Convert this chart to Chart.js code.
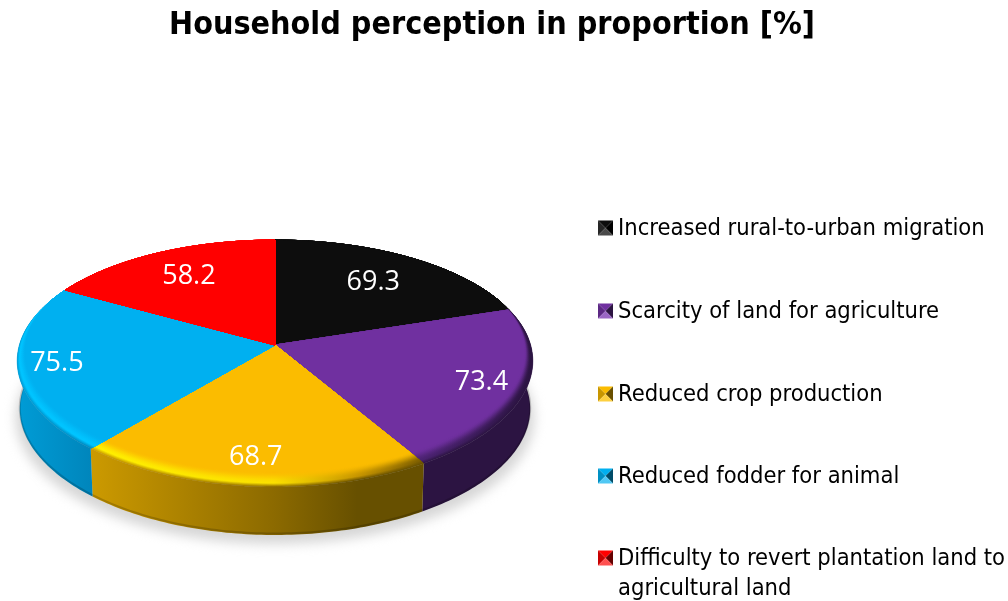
<!DOCTYPE html>
<html>
<head>
<meta charset="utf-8">
<title>Household perception in proportion</title>
<script src="https://cdn.jsdelivr.net/npm/chart.js@4/dist/chart.umd.min.js"></script>
<style>
    html, body { margin: 0; padding: 0; background: #fff; }
    #wrap { width: 1008px; height: 601px; }
</style>
</head>
<body>
<div id="wrap"><canvas id="pieChart" width="1008" height="601"></canvas></div>
<script>
//Values
const categories = [
    "Increased rural-to-urban migration",
    "Scarcity of land for agriculture",
    "Reduced crop production",
    "Reduced fodder for animal",
    "Difficulty to revert plantation land to agricultural land"
];
const perception = [69.3, 73.4, 68.7, 75.5, 58.2];
const titleText = "Household perception in proportion [%]";

//Colours per slice. Wall and bevel lists use the same stop positions so they can be blended
const faceColors = ["#0d0d0d", "#7030a0", "#fbbc00", "#00b0f0", "#ff0000"];
const wallColors = [
    [[0, "#0d0d0d"], [1, "#0d0d0d"]],
    [[0, "#2c1442"], [1, "#2c1442"]],
    [[0, "#cc9a00"], [0.55, "#8c6a00"], [0.8, "#675000"], [1, "#675000"]],
    [[0, "#009cd6"], [1, "#0086bc"]],
    [[0, "#ff0000"], [1, "#ff0000"]]
];
const bevelColors = [
    [[0, "#0d0d0d"], [1, "#0d0d0d"]],
    [[0, "#4a2270"], [1, "#2c1442"]],
    [[0, "#fff000"], [0.55, "#fbe000"], [0.8, "#c89600"], [1, "#7a5c00"]],
    [[0, "#00c4ff"], [1, "#00c4ff"]],
    [[0, "#ff0000"], [1, "#ff0000"]]
];
const markerColors = [
    ["#0d0d0d", "#262626", "#000000", "#4a4a4a"],
    ["#7030a0", "#5c2884", "#2c1442", "#9a66c4"],
    ["#fbbc00", "#c89600", "#6a5000", "#fdd040"],
    ["#00b0f0", "#0090c4", "#004c68", "#50c8f4"],
    ["#ff0000", "#c80000", "#660000", "#ff5050"]
];
//How far out along its radius each value label sits
const labelFractions = [0.70, 0.83, 0.82, 0.85, 0.72];

//Perspective of the tilted disc
const apexX = 275, apexY = 345;
const projA = 120.7, projB = 255.6, projK = 0.15, projKx = 0.13;
const depth = 48, bevelInset = 0.09, bevelSteps = 16, wallBlend = 0.25;

function project(angle, radius) {
    const u = Math.cos(angle) * radius;
    const v = Math.sin(angle) * radius;
    return { x: apexX + projB * u / (1 - projKx * v), y: apexY + projA * v / (1 - projK * v) };
}

//Rim point, pulled in towards the apex on the near side only (the bevel)
function rim(angle, inset) {
    const near = Math.max(0, (Math.sin(angle) + 0.4) / 1.4);
    return project(angle, 1 - inset * near);
}

function floorPoint(angle) {
    const p = project(angle, 1);
    return { x: apexX + (p.x - apexX) * 0.99, y: p.y + depth };
}

function anglesBetween(start, end) {
    const list = [];
    const steps = Math.ceil((end - start) / (Math.PI / 180));
    for (let i = 0; i <= steps; i++) {
        list.push(start + (end - start) * i / steps);
    }
    return list;
}

function hexToRgb(hex) {
    return [1, 3, 5].map(function (i) { return parseInt(hex.slice(i, i + 2), 16); });
}

function mixColor(a, b, t) {
    const ca = hexToRgb(a), cb = hexToRgb(b);
    const c = ca.map(function (v, i) { return Math.round(v + (cb[i] - v) * t); });
    return "rgb(" + c.join(",") + ")";
}

function arcSpan(arc) {
    const xs = anglesBetween(arc.startAngle, arc.endAngle).map(function (a) { return rim(a, 0).x; });
    return [Math.min.apply(null, xs), Math.max.apply(null, xs)];
}

//Colour of one bevel ring: t=0 is the outer edge, t=1 is the flat face
function ringStyle(ctx, i, span, face, t) {
    const g = ctx.createLinearGradient(span[0], 0, span[1], 0);
    bevelColors[i].forEach(function (s, n) {
        const first = wallColors[i][Math.round(n / (bevelColors[i].length - 1) * (wallColors[i].length - 1))][1];
        let color;
        if (t < wallBlend) {
            color = mixColor(first, s[1], t / wallBlend);
        } else {
            const k = (t - wallBlend) / (1 - wallBlend);
            color = mixColor(s[1], face, k * k * (3 - 2 * k));
        }
        g.addColorStop(s[0], color);
    });
    return g;
}

function fillFace(ctx, start, end, inset, style) {
    ctx.beginPath();
    ctx.moveTo(apexX, apexY);
    anglesBetween(start, end).forEach(function (a) {
        const p = rim(a, inset);
        ctx.lineTo(p.x, p.y);
    });
    ctx.closePath();
    ctx.fillStyle = style;
    ctx.strokeStyle = style;
    ctx.lineWidth = 0.6;
    ctx.fill();
    ctx.stroke();
}

const disc3dPlugin = {
    id: "disc3d",
    //Arcs keep their angles from the pie controller, but are painted here with the perspective
    beforeDatasetsDraw(chart) {
        const ctx = chart.ctx;
        const arcs = chart.getDatasetMeta(0).data;

        //Soft shadow on the ground
        ctx.save();
        ctx.filter = "blur(6px)";
        ctx.fillStyle = "#d6d6d6";
        ctx.beginPath();
        anglesBetween(0, Math.PI * 2).forEach(function (a) {
            const p = floorPoint(a);
            ctx.lineTo(p.x + (p.x - apexX) * 0.016, p.y + 9);
        });
        ctx.closePath();
        ctx.fill();
        ctx.restore();

        //Side wall
        arcs.forEach(function (arc, i) {
            const angles = anglesBetween(arc.startAngle, arc.endAngle);
            const span = arcSpan(arc);
            const g = ctx.createLinearGradient(span[0], 0, span[1], 0);
            wallColors[i].forEach(function (s) { g.addColorStop(s[0], s[1]); });
            ctx.beginPath();
            angles.forEach(function (a) {
                const p = rim(a, 0);
                ctx.lineTo(p.x, p.y);
            });
            angles.slice().reverse().forEach(function (a) {
                const p = floorPoint(a);
                ctx.lineTo(p.x, p.y);
            });
            ctx.closePath();
            ctx.fillStyle = g;
            ctx.fill();
            //Thin darker line along the foot of the wall
            ctx.beginPath();
            angles.forEach(function (a) {
                const p = floorPoint(a);
                ctx.lineTo(p.x, p.y - 1.5);
            });
            ctx.strokeStyle = "rgba(0,0,0,0.18)";
            ctx.lineWidth = 2;
            ctx.stroke();
        });

        //Top face: bevel rings blending into the flat colour
        arcs.forEach(function (arc, i) {
            const face = arc.options.backgroundColor;
            const span = arcSpan(arc);
            for (let s = 0; s <= bevelSteps; s++) {
                const t = s / bevelSteps;
                const style = s === bevelSteps ? face : ringStyle(ctx, i, span, face, t);
                fillFace(ctx, arc.startAngle, arc.endAngle, bevelInset * t, style);
            }
        });

        //Value labels
        ctx.save();
        ctx.fillStyle = "#ffffff";
        ctx.font = "27px 'Open Sans'";
        ctx.textAlign = "center";
        ctx.textBaseline = "middle";
        arcs.forEach(function (arc, i) {
            const mid = (arc.startAngle + arc.endAngle) / 2;
            const p = project(mid, labelFractions[i]);
            ctx.fillText(perception[i].toFixed(1), p.x, p.y);
        });
        ctx.restore();

        return false;
    },
    //Legend drawn by hand so the pillow markers and the wrapped last entry can be matched
    afterDraw(chart) {
        const ctx = chart.ctx;
        const rows = [229, 312, 395, 477, 559];
        const boxX = 598, boxSize = 15, textX = 618;
        ctx.save();
        ctx.font = "23.5px 'DejaVu Sans Condensed'";
        ctx.textBaseline = "middle";
        categories.forEach(function (name, i) {
            const y = rows[i];
            const top = y - boxSize / 2 - 1;
            const corners = [[boxX, top], [boxX + boxSize, top], [boxX + boxSize, top + boxSize], [boxX, top + boxSize]];
            const centre = [boxX + boxSize / 2, top + boxSize / 2];
            //top, left, right, bottom facets of the marker
            [[0, 1, 0], [3, 0, 1], [1, 2, 2], [2, 3, 3]].forEach(function (f) {
                ctx.beginPath();
                ctx.moveTo(corners[f[0]][0], corners[f[0]][1]);
                ctx.lineTo(corners[f[1]][0], corners[f[1]][1]);
                ctx.lineTo(centre[0], centre[1]);
                ctx.closePath();
                ctx.fillStyle = markerColors[i][f[2]];
                ctx.fill();
            });
            ctx.fillStyle = "#000000";
            if (i === 4) {
                ctx.fillText("Difficulty to revert plantation land to", textX, y);
                ctx.fillText("agricultural land", textX, y + 30);
            } else {
                ctx.fillText(name, textX, y);
            }
        });
        ctx.restore();
    }
};

new Chart(document.getElementById("pieChart").getContext("2d"), {
    type: "pie",
    data: {
        labels: categories,
        datasets: [{
            label: "Household perception in proportion",
            data: perception,
            backgroundColor: faceColors,
            borderWidth: 0
        }]
    },
    options: {
        responsive: false,
        animation: false,
        layout: { padding: { right: 24 } },
        plugins: {
            legend: { display: false },
            tooltip: { enabled: false },
            title: {
                display: true,
                text: titleText,
                color: "#000000",
                font: { family: "'DejaVu Sans Condensed'", size: 32, weight: "bold" },
                padding: { top: 6, bottom: 10 }
            }
        }
    },
    plugins: [disc3dPlugin]
});
</script>
</body>
</html>
